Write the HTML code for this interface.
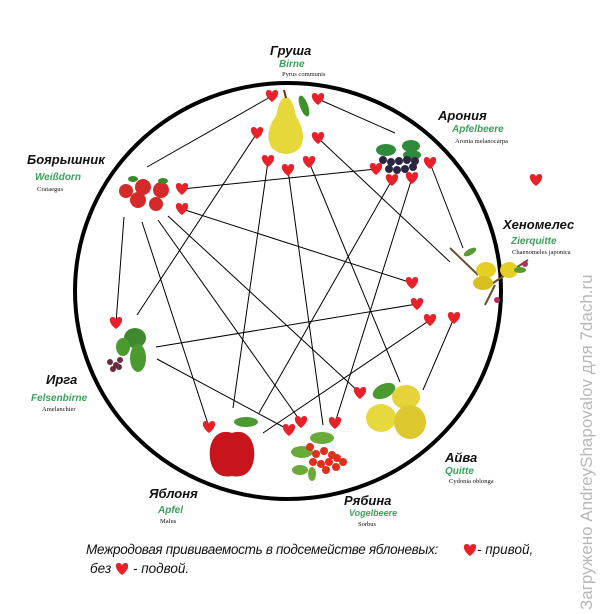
<!DOCTYPE html>
<html><head><meta charset="utf-8"><style>
html,body{margin:0;padding:0;background:#fff;}
body{width:600px;height:614px;overflow:hidden;position:relative;font-family:"Liberation Sans","Noto Sans CJK SC",sans-serif;}
.t{position:absolute;white-space:nowrap;}
.ru{font-weight:bold;font-style:italic;font-size:13px;color:#111;}
.de{font-weight:bold;font-style:italic;font-size:10px;color:#3aa25a;}
.la{font-family:"Liberation Serif",serif;font-size:6.5px;color:#111;}
</style></head><body>
<svg width="600" height="614" style="position:absolute;left:0;top:0">
<defs>
<path id="h" d="M0,6 C-8,0 -7,-6 -3.5,-6 C-1.5,-6 0,-4.5 0,-3 C0,-4.5 1.5,-6 3.5,-6 C7,-6 8,0 0,6Z" fill="#e8202a"/>
</defs>
<ellipse cx="288" cy="291" rx="213" ry="208" fill="none" stroke="#000" stroke-width="4"/>
<g stroke="#000" stroke-width="1" fill="none">
<line x1="147" y1="167" x2="272" y2="96"/>
<line x1="318" y1="99" x2="395" y2="133"/>
<line x1="257" y1="133" x2="137" y2="315"/>
<line x1="318" y1="138" x2="450" y2="262"/>
<line x1="268" y1="161" x2="233" y2="408"/>
<line x1="288" y1="170" x2="323" y2="425"/>
<line x1="309" y1="162" x2="400" y2="382"/>
<line x1="182" y1="189" x2="376" y2="169"/>
<line x1="182" y1="209" x2="412" y2="283"/>
<line x1="124" y1="217" x2="116" y2="323"/>
<line x1="142" y1="222" x2="209" y2="427"/>
<line x1="158" y1="220" x2="301" y2="422"/>
<line x1="168" y1="216" x2="360" y2="393"/>
<line x1="392" y1="180" x2="259" y2="413"/>
<line x1="412" y1="178" x2="335" y2="423"/>
<line x1="430" y1="163" x2="463" y2="248"/>
<line x1="417" y1="304" x2="156" y2="347"/>
<line x1="430" y1="320" x2="263" y2="433"/>
<line x1="454" y1="318" x2="423" y2="390"/>
<line x1="157" y1="359" x2="289" y2="430"/>
</g>
<!-- pear -->
<path d="M286,97 C280,97 278,108 276,116 C268,126 266,140 272,148 C280,156 292,156 300,148 C306,138 302,126 296,116 C294,108 292,97 286,97Z" fill="#e6d83a"/>
<path d="M286,98 L284,90" stroke="#5a3a10" stroke-width="2"/>
<ellipse cx="304" cy="106" rx="4" ry="11" fill="#3f8f2a" transform="rotate(-20 304 106)"/>
<!-- aronia -->
<ellipse cx="386" cy="150" rx="10" ry="6" fill="#2f8a3a"/><ellipse cx="411" cy="146" rx="9" ry="6" fill="#2f8a3a"/><ellipse cx="412" cy="155" rx="9" ry="5" fill="#2f8a3a"/>
<g fill="#2a2540"><circle cx="383" cy="160" r="4"/><circle cx="391" cy="162" r="4"/><circle cx="399" cy="161" r="4"/><circle cx="407" cy="160" r="4"/><circle cx="415" cy="161" r="4"/><circle cx="389" cy="169" r="4"/><circle cx="397" cy="170" r="4"/><circle cx="405" cy="169" r="4"/><circle cx="413" cy="167" r="4"/></g>
<!-- hawthorn -->
<g fill="#d42a2a"><circle cx="126" cy="191" r="7"/><circle cx="143" cy="187" r="8"/><circle cx="161" cy="190" r="8"/><circle cx="138" cy="200" r="8"/><circle cx="156" cy="204" r="7"/></g>
<ellipse cx="133" cy="179" rx="5" ry="3" fill="#3a8a2a"/><ellipse cx="163" cy="181" rx="5" ry="3" fill="#3a8a2a"/>
<!-- chaenomeles -->
<ellipse cx="470" cy="252" rx="7" ry="3" fill="#5a9a30" transform="rotate(-30 470 252)"/>
<line x1="478" y1="275" x2="450" y2="248" stroke="#6a5030" stroke-width="2"/><line x1="490" y1="285" x2="528" y2="260" stroke="#6a5030" stroke-width="2"/>
<line x1="495" y1="285" x2="485" y2="305" stroke="#6a5030" stroke-width="2"/>
<ellipse cx="486" cy="270" rx="10" ry="8" fill="#e6cf25"/><ellipse cx="509" cy="270" rx="9" ry="8" fill="#e6cf25"/><ellipse cx="483" cy="283" rx="10" ry="7" fill="#d6bf20"/>
<ellipse cx="520" cy="270" rx="6" ry="3" fill="#5a9a30"/><circle cx="525" cy="264" r="3" fill="#b03060"/><circle cx="497" cy="300" r="3" fill="#b03060"/>
<!-- irga -->
<ellipse cx="135" cy="338" rx="11" ry="10" fill="#3f8a2e"/><ellipse cx="138" cy="358" rx="8" ry="14" fill="#4a9a30"/><ellipse cx="123" cy="347" rx="7" ry="9" fill="#4a9a30"/>
<g fill="#6a2a40"><circle cx="110" cy="362" r="3"/><circle cx="116" cy="365" r="3"/><circle cx="113" cy="369" r="3"/><circle cx="120" cy="360" r="3"/><circle cx="119" cy="367" r="3"/></g>
<!-- apple -->
<ellipse cx="246" cy="422" rx="12" ry="5" fill="#4a9a30"/>
<path d="M232,433 C218,428 208,440 210,458 C212,474 222,478 232,476 C242,478 252,474 254,458 C256,440 246,428 232,433Z" fill="#c8141c"/>
<!-- rowan -->
<ellipse cx="302" cy="452" rx="11" ry="6" fill="#6aaa3a"/><ellipse cx="322" cy="438" rx="12" ry="6" fill="#6aaa3a"/><ellipse cx="300" cy="470" rx="8" ry="5" fill="#6aaa3a"/><ellipse cx="312" cy="474" rx="4" ry="7" fill="#6aaa3a"/>
<g fill="#e0301c"><circle cx="310" cy="447" r="4"/><circle cx="316" cy="454" r="4"/><circle cx="324" cy="451" r="4"/><circle cx="332" cy="455" r="4"/><circle cx="313" cy="462" r="4"/><circle cx="321" cy="464" r="4"/><circle cx="329" cy="462" r="4"/><circle cx="337" cy="458" r="4"/><circle cx="336" cy="467" r="4"/><circle cx="343" cy="462" r="4"/><circle cx="326" cy="470" r="4"/></g>
<!-- quince -->
<ellipse cx="384" cy="391" rx="12" ry="7" fill="#4a9a30" transform="rotate(-25 384 391)"/>
<ellipse cx="406" cy="397" rx="14" ry="12" fill="#e6d23a"/><ellipse cx="381" cy="418" rx="15" ry="14" fill="#e8d840"/><ellipse cx="410" cy="422" rx="16" ry="17" fill="#ddc830"/>
<g>
<use href="#h" x="272" y="96"/><use href="#h" x="318" y="99"/><use href="#h" x="257" y="133"/><use href="#h" x="318" y="138"/>
<use href="#h" x="268" y="161"/><use href="#h" x="288" y="170"/><use href="#h" x="309" y="162"/>
<use href="#h" x="376" y="169"/><use href="#h" x="430" y="163"/><use href="#h" x="392" y="180"/><use href="#h" x="412" y="178"/>
<use href="#h" x="182" y="189"/><use href="#h" x="182" y="209"/><use href="#h" x="536" y="180"/>
<use href="#h" x="412" y="283"/><use href="#h" x="417" y="304"/><use href="#h" x="430" y="320"/><use href="#h" x="454" y="318"/>
<use href="#h" x="116" y="323"/><use href="#h" x="209" y="427"/><use href="#h" x="289" y="430"/><use href="#h" x="301" y="422"/>
<use href="#h" x="335" y="423"/><use href="#h" x="360" y="393"/>
<use href="#h" x="470" y="550"/><use href="#h" x="122" y="569"/>
</g>
</svg>
<div class="t ru" style="left:270px;top:43px">Груша</div>
<div class="t de" style="left:279px;top:59px">Birne</div>
<div class="t la" style="left:282px;top:71px">Pyrus communis</div>
<div class="t ru" style="left:438px;top:108px">Арония</div>
<div class="t de" style="left:452px;top:124px">Apfelbeere</div>
<div class="t la" style="left:455px;top:138px">Aronia melanocarpa</div>
<div class="t ru" style="left:27px;top:152px">Боярышник</div>
<div class="t de" style="left:35px;top:172px">Weißdorn</div>
<div class="t la" style="left:37px;top:186px">Crataegus</div>
<div class="t ru" style="left:503px;top:217px">Хеномелес</div>
<div class="t de" style="left:511px;top:236px">Zierquitte</div>
<div class="t la" style="left:512px;top:249px">Chaenomeles japonica</div>
<div class="t ru" style="left:46px;top:372px">Ирга</div>
<div class="t de" style="left:31px;top:393px">Felsenbirne</div>
<div class="t la" style="left:42px;top:406px">Amelanchier</div>
<div class="t ru" style="left:445px;top:450px">Айва</div>
<div class="t de" style="left:445px;top:466px">Quitte</div>
<div class="t la" style="left:449px;top:478px">Cydonia oblonga</div>
<div class="t ru" style="left:149px;top:486px">Яблоня</div>
<div class="t de" style="left:158px;top:505px">Apfel</div>
<div class="t la" style="left:160px;top:518px">Malus</div>
<div class="t ru" style="left:344px;top:493px">Рябина</div>
<div class="t de" style="left:349px;top:508px;font-size:9px">Vogelbeere</div>
<div class="t la" style="left:358px;top:521px">Sorbus</div>
<div class="t" style="left:86px;top:542px;font-style:italic;font-size:13.5px;color:#111;letter-spacing:-0.3px">Межродовая прививаемость в подсемействе яблоневых:</div>
<div class="t" style="left:477px;top:542px;font-style:italic;font-size:13.5px;color:#111">- привой,</div>
<div class="t" style="left:90px;top:561px;font-style:italic;font-size:13.5px;color:#111">без</div>
<div class="t" style="left:133px;top:561px;font-style:italic;font-size:13.5px;color:#111">- подвой.</div>
<div class="t" style="left:577px;top:610px;transform:rotate(-90deg);transform-origin:0 0;font-size:17px;color:#b8b8b8">Загружено AndreyShapovalov для 7dach.ru</div>
</body></html>
